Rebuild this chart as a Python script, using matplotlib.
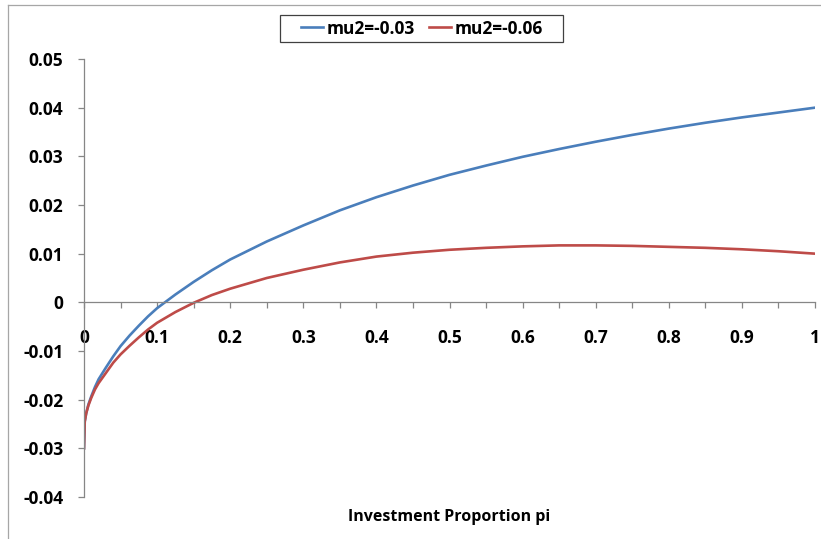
import matplotlib.pyplot as plt
from matplotlib.lines import Line2D
from matplotlib.patches import Rectangle

# values
pi = [0, 0.001, 0.003, 0.006, 0.01, 0.015, 0.02, 0.03, 0.04, 0.05, 0.0625,
      0.075, 0.0875, 0.1, 0.125, 0.15, 0.175, 0.2, 0.25, 0.3, 0.35, 0.4,
      0.45, 0.5, 0.55, 0.6, 0.65, 0.7, 0.75, 0.8, 0.85, 0.9, 0.95, 1.0]
mu2_003 = [-0.030, -0.0245, -0.0228, -0.0210, -0.0193, -0.0174, -0.0158, -0.0134,
           -0.0111, -0.0090, -0.0068, -0.0048, -0.0029, -0.0012, 0.0016, 0.0042,
           0.0066, 0.0088, 0.0125, 0.0158, 0.0189, 0.0216, 0.0240, 0.0262,
           0.0281, 0.0299, 0.0315, 0.0330, 0.0344, 0.0357, 0.0369, 0.0380,
           0.0390, 0.0400]
mu2_006 = [-0.030, -0.0245, -0.0228, -0.0212, -0.0196, -0.0179, -0.0166, -0.0145,
           -0.0124, -0.0107, -0.0089, -0.0072, -0.0056, -0.0042, -0.0020, -0.0001,
           0.0015, 0.0028, 0.0050, 0.0067, 0.0082, 0.0094, 0.0102, 0.0108,
           0.0112, 0.0115, 0.0117, 0.0117, 0.0116, 0.0114, 0.0112, 0.0109,
           0.0105, 0.0100]

x_ticks = [0, 0.1, 0.2, 0.3, 0.4, 0.5, 0.6, 0.7, 0.8, 0.9, 1]
x_labels = ['0', '0.1', '0.2', '0.3', '0.4', '0.5', '0.6', '0.7', '0.8', '0.9', '1']
y_ticks = [0.05, 0.04, 0.03, 0.02, 0.01, 0, -0.01, -0.02, -0.03, -0.04]
y_labels = ['0.05', '0.04', '0.03', '0.02', '0.01', '0', '-0.01', '-0.02', '-0.03', '-0.04']

plt.rcParams['font.family'] = ['Open Sans', 'DejaVu Sans']
plt.rcParams['font.weight'] = 'bold'
fs = 12.5

fig = plt.figure(figsize=(8.21, 5.39), dpi=100)
ax = fig.add_axes([84 / 821, 42 / 539, 731 / 821, 438 / 539])

ax.plot(pi, mu2_003, color='#4A7EBB', lw=1.9, label='mu2=-0.03')
ax.plot(pi, mu2_006, color='#BE4B48', lw=1.9, label='mu2=-0.06')

ax.set_xlim(0, 1)
ax.set_ylim(-0.04, 0.05)

ax.spines['top'].set_visible(False)
ax.spines['right'].set_visible(False)
ax.spines['bottom'].set_position(('data', 0))
for s in ('left', 'bottom'):
    ax.spines[s].set_color('#868686')
    ax.spines[s].set_linewidth(0.9)

ax.set_xticks(x_ticks)
ax.set_xticklabels(x_labels)
ax.set_xticks([i * 0.05 for i in range(21)], minor=True)
ax.set_yticks(y_ticks)
ax.set_yticklabels(y_labels)

ax.tick_params(axis='x', which='both', direction='out', length=4.3, width=0.9,
               color='#868686', pad=15, labelsize=fs)
ax.tick_params(axis='x', which='minor', labelbottom=False)
ax.tick_params(axis='y', direction='out', length=4.3, width=0.9,
               color='#868686', pad=10.5, labelsize=fs)

fig.text(449.5 / 821, 1 - 517 / 539, 'Investment Proportion pi', ha='center',
         va='center', fontsize=11.5, fontweight='bold')

leg = fig.legend(loc='center', bbox_to_anchor=(422 / 821, 1 - 28.5 / 539), ncol=2,
                 frameon=False, fontsize=fs, handlelength=1.27,
                 handletextpad=0.2, columnspacing=0.85)
# legend box
fig.add_artist(Rectangle((280 / 821, 1 - 42 / 539), 283 / 821, 27 / 539,
                         transform=fig.transFigure, fill=False,
                         edgecolor='#404040', lw=0.9))

# chart area border (top and left edges visible)
fig.add_artist(Line2D([8 / 821, 1], [1 - 5 / 539, 1 - 5 / 539], color='#a6a6a6', lw=0.9))
fig.add_artist(Line2D([8 / 821, 8 / 821], [0, 1 - 5 / 539], color='#a6a6a6', lw=0.9))

fig.savefig('out.png', dpi=100)
